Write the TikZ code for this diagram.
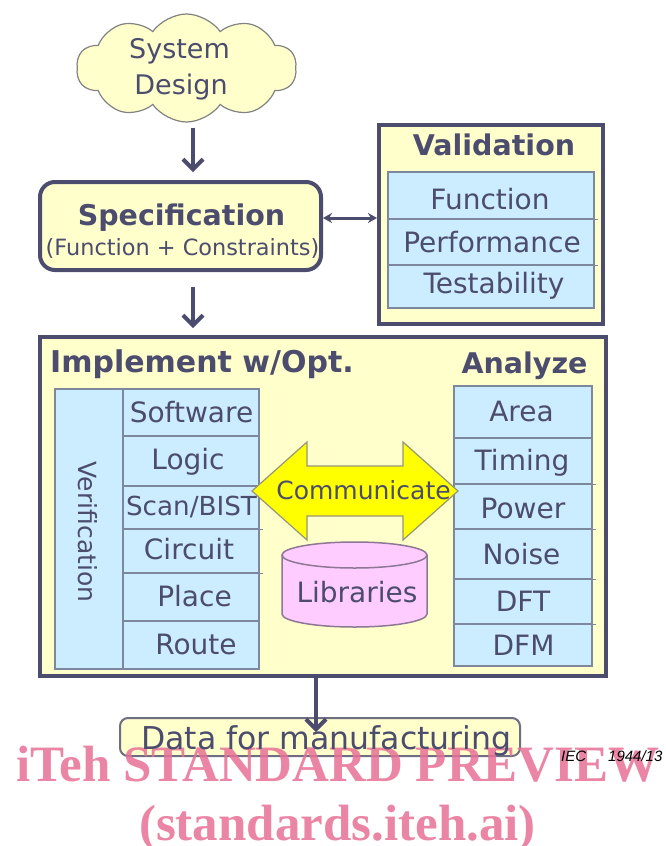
\documentclass[tikz,border=0pt]{standalone}
\usepackage{fontspec}
\setmainfont{DejaVu Sans}
\newfontfamily\wmfont{Liberation Serif}
\newfontfamily\notefont{Liberation Sans}
\usetikzlibrary{arrows.meta,shapes.symbols}

\definecolor{ink}{RGB}{76,76,110}
\definecolor{paleyellow}{RGB}{255,255,204}
\definecolor{cellblue}{RGB}{204,236,255}
\definecolor{cellline}{RGB}{125,135,158}
\definecolor{pinkfill}{RGB}{255,204,255}
\definecolor{pinkline}{RGB}{140,120,150}
\definecolor{commyellow}{RGB}{255,255,0}
\definecolor{commline}{RGB}{150,150,120}
\definecolor{cloudline}{RGB}{130,130,130}
\definecolor{dataline}{RGB}{110,110,130}
\definecolor{wmpink}{RGB}{232,112,150}

\newcommand\setfs[1]{\fontsize{#1}{#1}\selectfont}

\tikzset{
  frame/.style={draw=ink, line width=4pt, fill=paleyellow, inner sep=0pt},
  cell/.style={draw=cellline, fill=cellblue, line width=1.5pt, inner sep=0pt,
               anchor=north west},
  rowline/.style={draw=cellline, line width=1.5pt},
  lbl/.style={font=\setfs{#1}, text=ink, anchor=base, inner sep=0pt,
              yshift={-0.3645*#1pt}},
  blbl/.style={font=\setfs{#1}\bfseries, text=ink, anchor=base, inner sep=0pt,
               yshift={-0.3645*#1pt}},
  flow/.style={draw=ink, line width=4pt, -{Straight Barb[length=10pt,width=20pt]}},
  both/.style={draw=ink, line width=3pt,
               {Stealth[length=9pt,width=10pt]}-{Stealth[length=9pt,width=10pt]}},
  wmtext/.style={font=\setfs{51}\wmfont\bfseries, text=wmpink, text opacity=0.85,
               anchor=base, inner sep=0pt},
}

\begin{document}
\begin{tikzpicture}[x=1pt,y=-1pt]
\useasboundingbox (0,0) rectangle (666,846);

% --- system design cloud ---
\node[cloud, cloud puffs=10, cloud puff arc=110, aspect=2, draw=cloudline,
      line width=1.2pt, fill=paleyellow, minimum width=220pt, minimum height=108pt,
      inner sep=0pt] (sys) at (186.5,68) {};
\node[lbl=27] (sysA) at (179.5,49) {System};
\node[lbl=27] (sysB) at (181,84.5) {Design};

% --- specification ---
\node[frame, rounded corners=15pt, minimum width=281pt, minimum height=88pt]
      (spec) at (180.5,226) {};
\node[blbl=28.5] (specT) at (181.5,215) {Specification};
\node[lbl=22.4] (specS) at (182.5,247.5) {(Function + Constraints)};

% --- validation ---
\node[frame, minimum width=224pt, minimum height=199pt] (val) at (491,224.5) {};
\node[blbl=28.5] (valT) at (494,145) {Validation};
\node[cell, minimum width=206pt, minimum height=47pt] (v1) at (387,171) {};
\node[cell, minimum width=206pt, minimum height=46pt] (v2) at (387,218) {};
\node[cell, minimum width=206pt, minimum height=43pt] (v3) at (387,264) {};
\foreach \r in {v1,v2} \draw[rowline] (\r.south west) -- ([xshift=3pt]\r.south east);
\node[lbl=28] (v1t) at (490,199.5) {Function};
\node[lbl=28] (v2t) at (492,242) {Performance};
\node[lbl=28] (v3t) at (494,283.5) {Testability};

% --- implement / analyze frame ---
\node[frame, minimum width=566pt, minimum height=339pt] (impl) at (323,506.5) {};
\node[blbl=30, anchor=base west] (implT) at (50,362) {Implement w/Opt.};
\node[blbl=28.5] (anaT) at (524.5,363) {Analyze};

% verification column and implementation steps
\node[cell, minimum width=68pt, minimum height=280pt] (verif) at (54,388) {};
\node[font=\setfs{25}, text=ink, rotate=-90, inner sep=0pt] (verifT) at (88,532) {Verification};
\foreach \t/\b [count=\i] in {388/435,435/485,485/528,528/572,572/620,620/668}
  \node[cell, minimum width=136pt, minimum height={\b-\t}] (s\i) at (122,\t) {};
\foreach \r in {s2,s3,s4} \draw[rowline] (\r.south west) -- ([xshift=3pt]\r.south east);
\node[lbl=28] (s1t) at (191.5,412) {Software};
\node[lbl=28] (s2t) at (188,459) {Logic};
\node[lbl=26.2] (s3t) at (191.5,506) {Scan/BIST};
\node[lbl=28] (s4t) at (189,549) {Circuit};
\node[lbl=28] (s5t) at (194.5,596.5) {Place};
\node[lbl=28] (s6t) at (196,644.5) {Route};

% analysis column
\foreach \t/\b [count=\i] in {385/437,437/483,483/528,528/578,578/623,623/665}
  \node[cell, minimum width=138pt, minimum height={\b-\t}] (a\i) at (453,\t) {};
\foreach \r in {a2,a3,a4,a5} \draw[rowline] (\r.south west) -- ([xshift=3pt]\r.south east);
\node[lbl=28] (a1t) at (521.5,411.5) {Area};
\node[lbl=28] (a2t) at (522,460.5) {Timing};
\node[lbl=28] (a3t) at (523,508) {Power};
\node[lbl=28] (a4t) at (521.5,554.5) {Noise};
\node[lbl=28] (a5t) at (523,601.5) {DFT};
\node[lbl=28] (a6t) at (523.5,645.5) {DFM};

% communicate double arrow
\path[fill=commyellow, draw=commline, line width=1.2pt, line join=miter]
  (252,491) -- (307,442) -- (307,466) -- (403,466) -- (403,442) -- (458,491)
  -- (403,540) -- (403,516) -- (307,516) -- (307,540) -- cycle;
\node[lbl=25] (comm) at (363.5,490.5) {Communicate};

% libraries cylinder
\path[fill=pinkfill, draw=pinkline, line width=1.5pt]
  (282,555) -- (282,614) arc[start angle=180, end angle=0, x radius=72.5, y radius=13]
  -- (427,555) arc[start angle=0, end angle=-180, x radius=72.5, y radius=13] -- cycle;
\draw[pinkline, line width=1.5pt]
  (282,555) arc[start angle=180, end angle=0, x radius=72.5, y radius=13];
\node[lbl=28] (lib) at (357,592.5) {Libraries};

% --- data for manufacturing ---
\node[draw=dataline, line width=2pt, fill=paleyellow, rounded corners=8pt,
      minimum width=400pt, minimum height=38pt, inner sep=0pt] (data) at (320,737) {};

% --- watermark (behind the texts that cross it) ---
\node[wmtext] (wm1) at (338,781) {iTeh STANDARD PREVIEW};
\node[wmtext] (wm2) at (337.5,840) {(standards.iteh.ai)};

\node[lbl=31.5] (dataT) at (326.5,738.5) {Data for manufacturing};

% --- connectors ---
\coordinate (ax1) at (193,0);
\coordinate (ax2) at (316,0);
\draw[flow, shorten <=5pt, shorten >=8pt] (sys.south -| ax1) -- (spec.north -| ax1);
\draw[flow, shorten <=15pt, shorten >=7pt] (spec.south -| ax1) -- (impl.north -| ax1);
\draw[flow, shorten >=-15pt] (impl.south -| ax2) -- (data.north -| ax2);
\draw[both] ([yshift=8pt]spec.east) -- ([yshift=6.5pt]val.west);

% --- figure reference ---
\node[font=\notefont\itshape\setfs{15}, anchor=base west, inner sep=0pt] (iec) at (561,761) {IEC};
\node[font=\notefont\itshape\setfs{15}, anchor=base west, inner sep=0pt] (num) at (608,761) {1944/13};
\end{tikzpicture}
\end{document}
